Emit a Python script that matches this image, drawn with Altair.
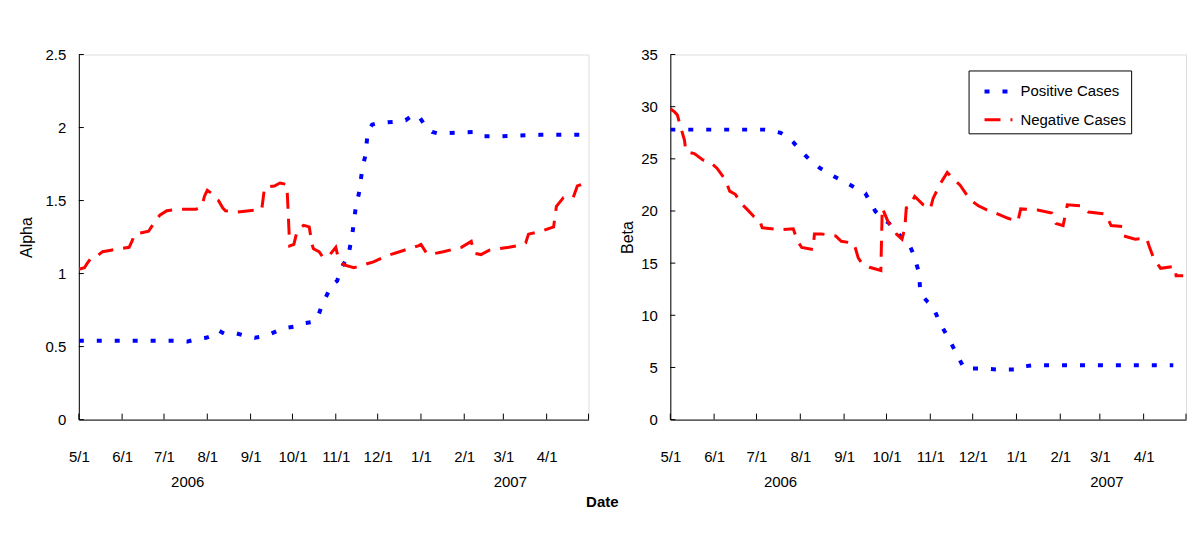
import altair as alt
import pandas as pd

FONT = "Liberation Sans"
START = pd.Timestamp("2006-05-01")

# ---- data: day offset from 2006-05-01 and value ----
alpha_pos_days = [0, 70, 78, 84, 91, 97, 100, 104, 113, 120, 126, 132, 138, 145, 150, 156, 161, 168,
                  171, 174, 176, 181, 185, 188, 193, 196, 198, 201, 203, 205, 207, 210, 214, 227, 234,
                  240, 244, 249, 253, 257, 284, 290, 300, 330, 362]
alpha_pos_vals = [0.54, 0.54, 0.535, 0.55, 0.56, 0.58, 0.61, 0.59, 0.59, 0.57, 0.56, 0.57, 0.59, 0.62,
                  0.63, 0.64, 0.66, 0.67, 0.70, 0.78, 0.82, 0.92, 0.95, 1.04, 1.12, 1.28, 1.43, 1.57,
                  1.72, 1.80, 1.97, 2.02, 2.03, 2.04, 2.05, 2.09, 2.07, 2.00, 1.97, 1.96, 1.97, 1.94,
                  1.94, 1.95, 1.95]

alpha_neg_days = [0, 4, 6, 9, 13, 17, 23, 29, 36, 38, 40, 45, 50, 54, 58, 63, 71, 84, 88, 90, 92, 95,
                  97, 100, 103, 105, 113, 122, 131, 133, 140, 144, 149, 151, 154, 156, 158, 161, 165,
                  167, 168, 172, 175, 179, 184, 186, 190, 197, 204, 211, 220, 233, 243, 245, 249, 251,
                  261, 274, 281, 283, 288, 294, 308, 314, 320, 322, 331, 340, 342, 347, 354, 357, 363]
alpha_neg_vals = [1.03, 1.04, 1.07, 1.11, 1.12, 1.15, 1.16, 1.17, 1.18, 1.22, 1.27, 1.28, 1.29, 1.35,
                  1.40, 1.43, 1.44, 1.44, 1.46, 1.53, 1.57, 1.55, 1.52, 1.50, 1.45, 1.43, 1.42, 1.43,
                  1.44, 1.59, 1.60, 1.62, 1.61, 1.19, 1.20, 1.28, 1.31, 1.33, 1.32, 1.20, 1.17, 1.15,
                  1.11, 1.12, 1.18, 1.10, 1.06, 1.04, 1.06, 1.08, 1.12, 1.16, 1.19, 1.20, 1.14, 1.13,
                  1.15, 1.18, 1.22, 1.14, 1.13, 1.16, 1.18, 1.19, 1.21, 1.27, 1.29, 1.32, 1.46, 1.52,
                  1.52, 1.60, 1.62]

beta_pos_days = [0, 66, 72, 78, 83, 87, 92, 98, 106, 116, 126, 134, 138, 145, 150, 155, 160, 165, 169,
                 172, 176, 177, 182, 186, 191, 197, 203, 208, 220, 232, 245, 250, 257, 300, 356]
beta_pos_vals = [27.8, 27.8, 27.7, 27.5, 27.1, 26.6, 25.8, 25.0, 24.1, 23.3, 22.6, 22.0, 21.7, 20.0,
                 19.3, 18.8, 18.0, 17.3, 16.8, 15.9, 14.1, 12.1, 11.3, 10.8, 9.2, 7.8, 6.2, 4.9, 4.9,
                 4.8, 4.8, 5.1, 5.2, 5.2, 5.2]

beta_neg_days = [0, 3, 5, 7, 10, 11, 17, 23, 28, 33, 39, 42, 46, 51, 54, 59, 63, 65, 78, 87, 90, 93,
                 101, 102, 107, 117, 121, 130, 133, 136, 141, 149, 150, 154, 160, 164, 166, 167, 169,
                 173, 179, 184, 186, 191, 196, 200, 205, 212, 218, 224, 232, 239, 246, 248, 260, 270,
                 273, 278, 281, 291, 296, 308, 312, 320, 321, 329, 337, 339, 342, 347, 357, 358, 363]
beta_neg_vals = [29.8, 29.5, 29.2, 28.2, 26.8, 25.7, 25.5, 24.9, 24.7, 24.1, 23.0, 21.9, 21.6, 20.6,
                 20.2, 19.5, 19.2, 18.4, 18.2, 18.3, 17.1, 16.5, 16.3, 17.8, 17.8, 17.6, 17.1, 16.9,
                 15.5, 14.9, 14.6, 14.3, 20.3, 19.0, 17.8, 17.3, 18.4, 20.3, 20.4, 21.4, 20.6, 20.2,
                 21.2, 22.6, 23.7, 23.1, 22.5, 21.1, 20.5, 20.1, 19.7, 19.3, 19.0, 20.2, 20.1, 19.8,
                 18.8, 18.6, 20.6, 20.5, 19.9, 19.7, 18.6, 18.5, 17.6, 17.3, 17.4, 16.6, 15.5, 14.5,
                 14.7, 13.8, 13.8]

month_ticks = ["2006-05-01", "2006-06-01", "2006-07-01", "2006-08-01", "2006-09-01", "2006-10-01",
               "2006-11-01", "2006-12-01", "2007-01-01", "2007-02-01", "2007-03-01", "2007-04-01"]
axis_start = "2006-05-01"
axis_end = "2007-05-01"
year_labels = ["2006", "2007"]
year_pos = ["2006-07-18", "2007-03-06"]
alpha_ticks = [0, 0.5, 1, 1.5, 2, 2.5]
beta_ticks = [0, 5, 10, 15, 20, 25, 30, 35]
series_names = ["Positive Cases", "Negative Cases"]
series_colors = ["#0000FF", "#FF0000"]
series_dashes = [[5, 13], [16, 10]]
series_widths = [4, 3]


def iso(days):
    return [(START + pd.Timedelta(days=d)).strftime("%Y-%m-%d") for d in days]


def dt(s):
    t = pd.Timestamp(s)
    return alt.DateTime(year=t.year, month=t.month, date=t.day, utc=True)


def panel(pos_days, pos_vals, neg_days, neg_vals, ytitle, ymax, yticks, width, height,
          title_pad, legend):
    df = pd.DataFrame({
        "date": iso(pos_days) + iso(neg_days),
        "value": pos_vals + neg_vals,
        "series": [series_names[0]] * len(pos_days) + [series_names[1]] * len(neg_days),
    })
    xscale = alt.Scale(type="utc", domain=[dt(axis_start), dt(axis_end)])
    yscale = alt.Scale(domain=[0, ymax], nice=False)
    xaxis = alt.Axis(values=[dt(m) for m in month_ticks],
                     labelExpr="utcFormat(datum.value, '%-m/%-d')",
                     ticks=False, grid=False, domainColor="black", labelPadding=30,
                     title=None, labelFontSize=15, labelFont=FONT, labelColor="black",
                     labelFlush=False, labelOverlap=False)
    yaxis = alt.Axis(values=yticks, format="~g", ticks=False, grid=False, domainColor="black",
                     labelPadding=13, labelFontSize=15, labelFont=FONT, labelColor="black",
                     title=ytitle, titleFont=FONT, titleFontSize=16, titleFontWeight="normal",
                     titleColor="black", titlePadding=title_pad)
    X = alt.X("date:T", scale=xscale, axis=xaxis)
    lines = alt.Chart(df).mark_line(clip=True).encode(
        x=X,
        y=alt.Y("value:Q", scale=yscale, axis=yaxis),
        color=alt.Color("series:N", scale=alt.Scale(domain=series_names, range=series_colors),
                        legend=legend),
        strokeDash=alt.StrokeDash("series:N",
                                  scale=alt.Scale(domain=series_names, range=series_dashes),
                                  legend=legend),
        strokeWidth=alt.StrokeWidth("series:N",
                                    scale=alt.Scale(domain=series_names, range=series_widths),
                                    legend=None),
    )
    xt = alt.Chart(pd.DataFrame({"date": month_ticks + [axis_end]})).mark_rule(
        color="black", strokeWidth=1).encode(
        x=X, y=alt.value(height), y2=alt.value(height - 6))
    yt = alt.Chart(pd.DataFrame({"value": yticks})).mark_rule(color="black", strokeWidth=1).encode(
        y=alt.Y("value:Q", scale=yscale, axis=yaxis), x=alt.value(0), x2=alt.value(5))
    yr = alt.Chart(pd.DataFrame({"date": year_pos, "label": year_labels})).mark_text(
        font=FONT, fontSize=15, color="black", baseline="middle").encode(
        x=X, y=alt.value(height + 63), text="label:N")
    return alt.layer(lines, xt, yt, yr).properties(width=width, height=height)


legend = alt.Legend(orient="none", legendX=299, legendY=16, title=None, strokeColor="black",
                    fillColor="white", padding=5, labelFont=FONT, labelFontSize=15,
                    labelColor="black", symbolType="stroke", symbolSize=784,
                    symbolStrokeWidth=4, rowPadding=5, labelOffset=6, symbolOffset=9,
                    labelExpr="datum.label + '          '", cornerRadius=0)

left = panel(alpha_pos_days, alpha_pos_vals, alpha_neg_days, alpha_neg_vals, "Alpha", 2.5,
             alpha_ticks, 511, 366, 11, None)
right = panel(beta_pos_days, beta_pos_vals, beta_neg_days, beta_neg_vals, "Beta", 35,
              beta_ticks, 517, 366, 5, legend)

chart = alt.hconcat(left, right, spacing=29).resolve_scale(
    color="independent", strokeDash="independent", strokeWidth="independent"
).properties(
    padding={"left": 9, "top": 38, "right": 5, "bottom": 5},
    title=alt.TitleParams("Date", orient="bottom", anchor="middle", font=FONT, fontSize=15,
                          fontWeight="bold", color="black", offset=4),
).configure_view(stroke=None).configure(background="white")

chart.save("out.html", embed_options={"renderer": "svg", "actions": False})
